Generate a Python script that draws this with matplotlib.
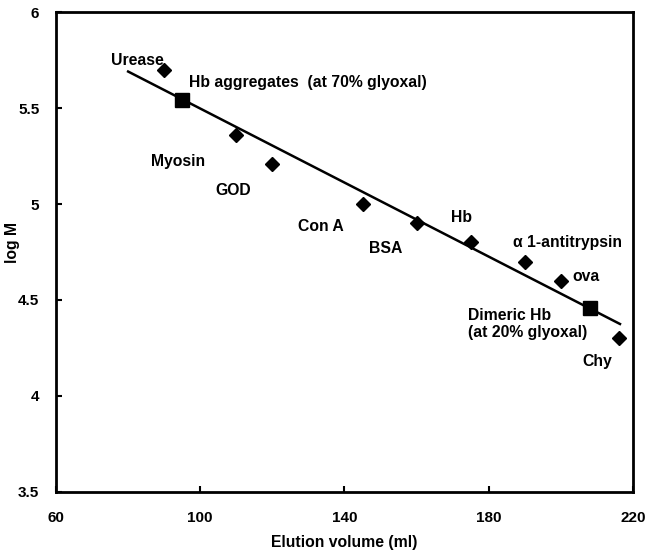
import matplotlib
matplotlib.use("Agg")
import matplotlib.pyplot as plt

plt.rcParams["font.family"] = ["Liberation Sans", "DejaVu Sans"]
plt.rcParams["font.weight"] = "bold"

# standard proteins (diamonds)
proteins = ["Urease", "Myosin", "GOD", "Con A", "BSA", "Hb",
            "α 1-antitrypsin", "ova", "Chy"]
elution = [90, 110, 120, 145, 160, 175, 190, 200, 216]
log_m = [5.70, 5.36, 5.21, 5.00, 4.90, 4.80, 4.70, 4.60, 4.30]

# glyoxal-treated Hb (squares)
hb_names = ["Hb aggregates  (at 70% glyoxal)", "Dimeric Hb\n(at 20% glyoxal)"]
hb_elution = [95, 208]
hb_log_m = [5.54, 4.46]

# calibration line end points
fit_x = [80, 216.4]
fit_y = [5.69, 4.375]

# label anchors (data units)
label_x = [89.8, 86.3, 104.1, 127.1, 146.8, 169.5, 186.7, 203.1, 205.9]
label_y = [5.745, 5.22, 5.07, 4.885, 4.77, 4.93, 4.80, 4.62, 4.18]
label_ha = ["right", "left", "left", "left", "left", "left", "left", "left", "left"]
hb_label_x = [96.9, 174.3]
hb_label_y = [5.635, 4.375]

fig = plt.figure(figsize=(6.52, 5.59), dpi=100)
ax = fig.add_axes([0.0859, 0.1199, 0.8849, 0.8586])

ax.plot(fit_x, fit_y, color="black", linewidth=1.8, zorder=2)
ax.plot(elution, log_m, linestyle="none", marker="D", color="black",
        markersize=7.2, zorder=3)
ax.plot(hb_elution, hb_log_m, linestyle="none", marker="s", color="black",
        markersize=9.5, zorder=3)

for name, x, y, ha in zip(proteins, label_x, label_y, label_ha):
    ax.text(x, y, name, ha=ha, va="center", fontsize=11.3, fontweight="bold")
for name, x, y in zip(hb_names, hb_label_x, hb_label_y):
    ax.text(x, y, name, ha="left", va="center", fontsize=11.3,
            fontweight="bold", linespacing=1.1)

ax.set_xlim(60, 220)
ax.set_ylim(3.5, 6)
ax.set_xticks([60, 100, 140, 180, 220])
ax.set_yticks([3.5, 4, 4.5, 5, 5.5, 6])
ax.set_yticklabels(["3.5", "4", "4.5", "5", "5.5", "6"])
ax.tick_params(direction="in", length=4, width=1.5, labelsize=11)
ax.tick_params(axis="x", pad=14)
ax.tick_params(axis="y", pad=12)
for lab in ax.get_xticklabels() + ax.get_yticklabels():
    lab.set_fontweight("bold")
for sp in ax.spines.values():
    sp.set_linewidth(2)

ax.set_xlabel("Elution volume (ml)", fontsize=11.3, fontweight="bold")
ax.set_ylabel("log M", fontsize=11.3, fontweight="bold")
ax.xaxis.set_label_coords(0.5, -0.09)
ax.yaxis.set_label_coords(-0.062, 0.52)

fig.savefig("out.png", dpi=100)
